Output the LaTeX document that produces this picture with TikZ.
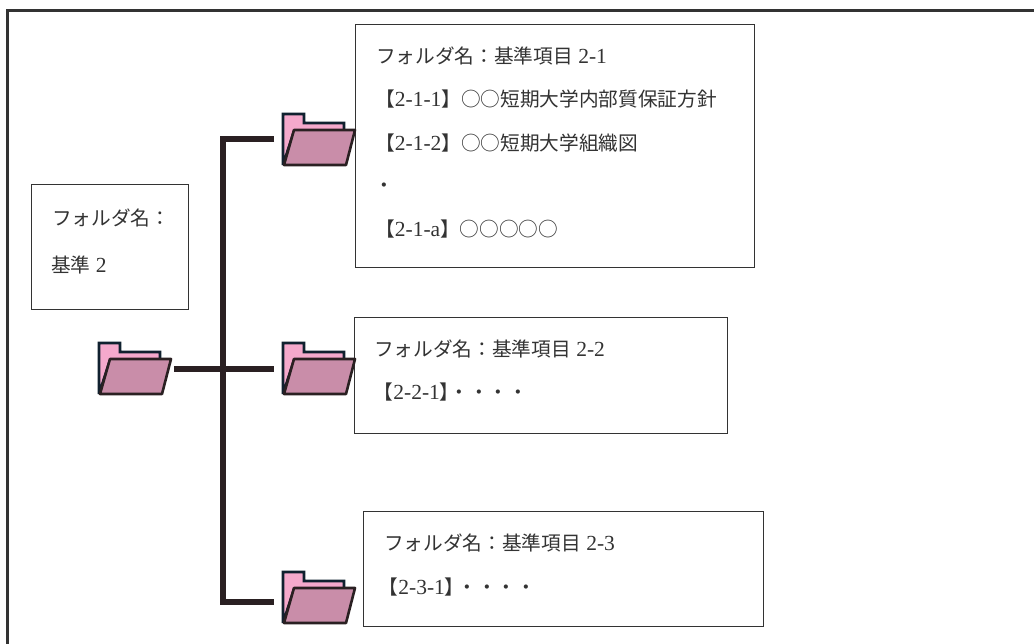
\documentclass[tikz,border=0pt]{standalone}
\usepackage{fontspec}
\setmainfont{Liberation Serif}
\newfontfamily\jp[Scale=0.915]{Noto Sans CJK JP}
\definecolor{folderback}{HTML}{F5A9CC}
\definecolor{folderfront}{HTML}{C98DA9}
\definecolor{foldernavy}{HTML}{10212F}
\definecolor{folderedge}{HTML}{2A2022}
\definecolor{inktext}{HTML}{333333}
\tikzset{
  folder pic/.pic={
    \draw [foldernavy,fill=folderback,line width=2.6pt,line join=miter,miter limit=2]
      (1,52) -- (1,1) -- (22,1) -- (22,10) -- (62,10) -- (62,18) -- (12,18) -- cycle;
    \draw [folderedge,fill=folderfront,line width=2.6pt,line join=round]
      (12,17) -- (73,17) -- (64,52) -- (2,52) -- cycle;
  },
}
\begin{document}
\begin{tikzpicture} [
  x=1pt,y=-1pt,
  frame line/.style= {draw=inktext,line width=2.4pt},
  list box/.style= {draw=inktext,line width=1pt,fill=white,inner sep=0,outer sep=0},
  folder node/.style= {minimum width=74pt,minimum height=54pt,inner sep=0,anchor=north west,outer ysep=0pt,outer xsep=2pt},
  tree line/.style= {draw=folderedge,line width=5.5pt,line join=miter},
  list text/.style= {anchor=base west,inner sep=0,text=inktext,font=\fontsize{21.5}{24}\selectfont},
]
\useasboundingbox (0,0) rectangle (1034,644);
\fill [white] (0,0) rectangle (1034,644);
\draw [frame line] (1034,10.5) -- (7.3,10.5) -- (7.3,644);
% boxes
\node (rootbox) [list box,minimum width=157pt,minimum height=125pt] at (109.5,247.5) {};
\node (boxa) [list box,minimum width=399pt,minimum height=243pt] at (554.5,146.5) {};
\node (boxb) [list box,minimum width=373pt,minimum height=115pt] at (540.5,375.5) {};
\node (boxc) [list box,minimum width=400pt,minimum height=115pt] at (563,568.5) {};
% folders
\node (root) [folder node] at (96,342) {};
\node (fa) [folder node,outer xsep=8pt] at (274,113) {};
\node (fb) [folder node,outer xsep=8pt] at (274,342) {};
\node (fc) [folder node,outer xsep=8pt] at (274,571) {};
\coordinate (trunktop) at (223,139);
\coordinate (trunkbot) at (223,602);
\draw [tree line] (fa.west |- trunktop) -- (trunktop) -- (trunkbot) -- (fc.west |- trunkbot);
\draw [tree line] (root.east) -- (fb.west);
\pic at (98,342) {folder pic};
\pic at (282,113) {folder pic};
\pic at (282,342) {folder pic};
\pic at (282,571) {folder pic};
% texts
\node (roota) [list text] at (52,225.5) {\jp フォルダ名：};
\node (rootb) [list text] at (51,272.5) {{\jp 基準} 2};
\node (a1) [list text] at (376,63.5) {{\jp フォルダ名：基準項目} 2-1};
\node (a2) [list text] at (375,107) {{\jp 【}2-1-1{\jp 】○○短期大学内部質保証方針}};
\node (a3) [list text] at (375,150.5) {{\jp 【}2-1-2{\jp 】○○短期大学組織図}};
\node (a4) [list text] at (374,192.5) {\jp ・};
\node (a5) [list text] at (375,236.5) {{\jp 【}2-1-a{\jp 】○○○○○}};
\node (b1) [list text] at (374,357) {{\jp フォルダ名：基準項目} 2-2};
\node (b2) [list text] at (373.5,399.5) {{\jp 【}2-2-1{\jp 】}\hspace{-10pt}{\jp ・・・・}};
\node (c1) [list text] at (384,550) {{\jp フォルダ名：基準項目} 2-3};
\node (c2) [list text] at (378.5,594) {{\jp 【}2-3-1{\jp 】}\hspace{-7pt}{\jp ・・・・}};
\end{tikzpicture}
\end{document}
